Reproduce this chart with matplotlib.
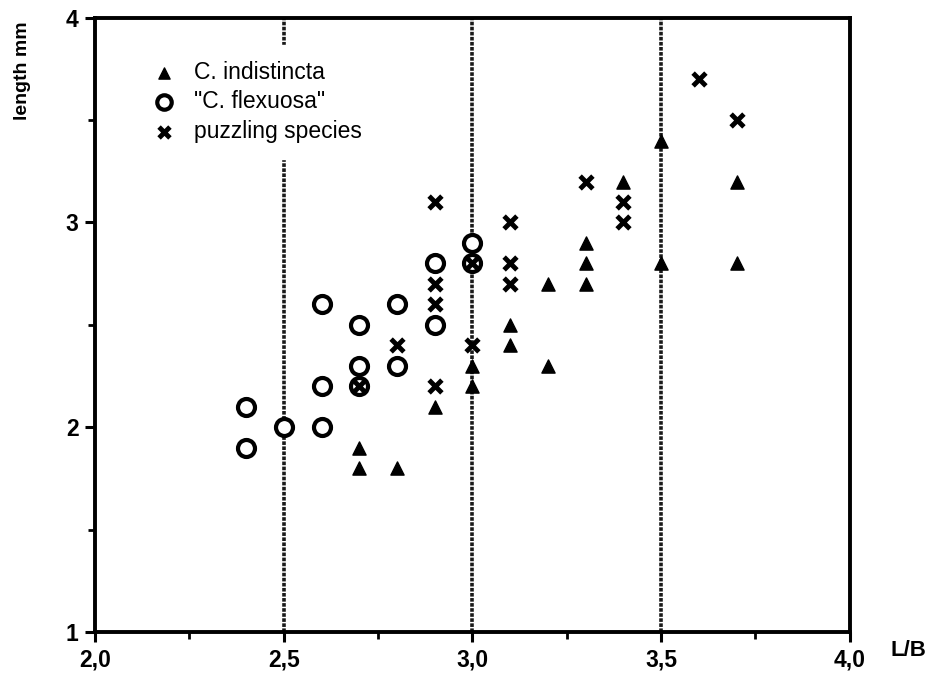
import matplotlib
matplotlib.use("Agg")
import matplotlib.pyplot as plt
from matplotlib.ticker import FixedLocator, FixedFormatter

plt.rcParams['font.family'] = ['Liberation Sans', 'DejaVu Sans']

# C. indistincta (triangles)
ind_x = [2.7, 2.7, 2.8, 2.9, 3.0, 3.0, 3.1, 3.1, 3.2, 3.2, 3.3, 3.3, 3.3, 3.4, 3.5, 3.5, 3.7, 3.7]
ind_y = [1.9, 1.8, 1.8, 2.1, 2.3, 2.2, 2.5, 2.4, 2.7, 2.3, 2.9, 2.8, 2.7, 3.2, 3.4, 2.8, 3.2, 2.8]

# "C. flexuosa" (open circles)
flex_x = [2.4, 2.4, 2.5, 2.6, 2.6, 2.6, 2.7, 2.7, 2.7, 2.8, 2.8, 2.9, 2.9, 3.0, 3.0]
flex_y = [2.1, 1.9, 2.0, 2.6, 2.2, 2.0, 2.5, 2.3, 2.2, 2.6, 2.3, 2.8, 2.5, 2.9, 2.8]

# puzzling species (crosses)
puz_x = [2.7, 2.8, 2.9, 2.9, 2.9, 2.9, 3.0, 3.0, 3.1, 3.1, 3.1, 3.3, 3.4, 3.4, 3.6, 3.7]
puz_y = [2.2, 2.4, 3.1, 2.7, 2.6, 2.2, 2.8, 2.4, 3.0, 2.8, 2.7, 3.2, 3.1, 3.0, 3.7, 3.5]

ref_lines = [2.5, 3.0, 3.5]

x_ticks = [2.0, 2.5, 3.0, 3.5, 4.0]
x_tick_labels = ["2,0", "2,5", "3,0", "3,5", "4,0"]
x_minor = [2.25, 2.75, 3.25, 3.75]
y_ticks = [1, 2, 3, 4]
y_tick_labels = ["1", "2", "3", "4"]
y_minor = [1.5, 2.5, 3.5]

fig = plt.figure(figsize=(9.42, 6.82), dpi=100)
ax = fig.add_axes([0.101, 0.0733, 0.801, 0.9007])

for xv in ref_lines:
    ax.axvline(xv, color='#1a1a1a', lw=2.6, linestyle=(0, (1.0, 0.4)), zorder=1)

ax.scatter(flex_x, flex_y, marker='o', s=150, facecolors='white', edgecolors='black',
           linewidths=3.0, zorder=3, label='"C. flexuosa"')
ax.scatter(ind_x, ind_y, marker='^', s=90, color='black', zorder=4, label='C. indistincta')
ax.scatter(puz_x, puz_y, marker='x', s=85, color='black', linewidths=3.5, zorder=5,
           label='puzzling species')

ax.set_xlim(2.0, 4.0)
ax.set_ylim(1.0, 4.0)

ax.xaxis.set_major_locator(FixedLocator(x_ticks))
ax.xaxis.set_major_formatter(FixedFormatter(x_tick_labels))
ax.xaxis.set_minor_locator(FixedLocator(x_minor))
ax.yaxis.set_major_locator(FixedLocator(y_ticks))
ax.yaxis.set_major_formatter(FixedFormatter(y_tick_labels))
ax.yaxis.set_minor_locator(FixedLocator(y_minor))

ax.tick_params(which='major', direction='out', length=7, width=2.2, labelsize=16.5, pad=5)
ax.tick_params(which='minor', direction='out', length=5, width=2.0)
for lbl in ax.get_xticklabels() + ax.get_yticklabels():
    lbl.set_fontweight('bold')

for sp in ax.spines.values():
    sp.set_linewidth(2.8)

handles, labels = ax.get_legend_handles_labels()
order = [1, 0, 2]
leg = ax.legend([handles[i] for i in order], [labels[i] for i in order],
                loc='upper left', bbox_to_anchor=(0.04, 0.975), frameon=True,
                framealpha=1.0, edgecolor='white', fontsize=16.5, handlelength=1.0,
                handletextpad=0.8, labelspacing=0.3, borderpad=0.7, markerscale=0.85)
leg.set_zorder(10)

fig.text(0.015, 0.968, 'length mm', rotation=90, ha='left', va='top', fontsize=14,
         fontweight='bold')
fig.text(0.964, 0.046, 'L/B', ha='center', va='center', fontsize=16, fontweight='bold')

fig.savefig('out.png', dpi=100)
